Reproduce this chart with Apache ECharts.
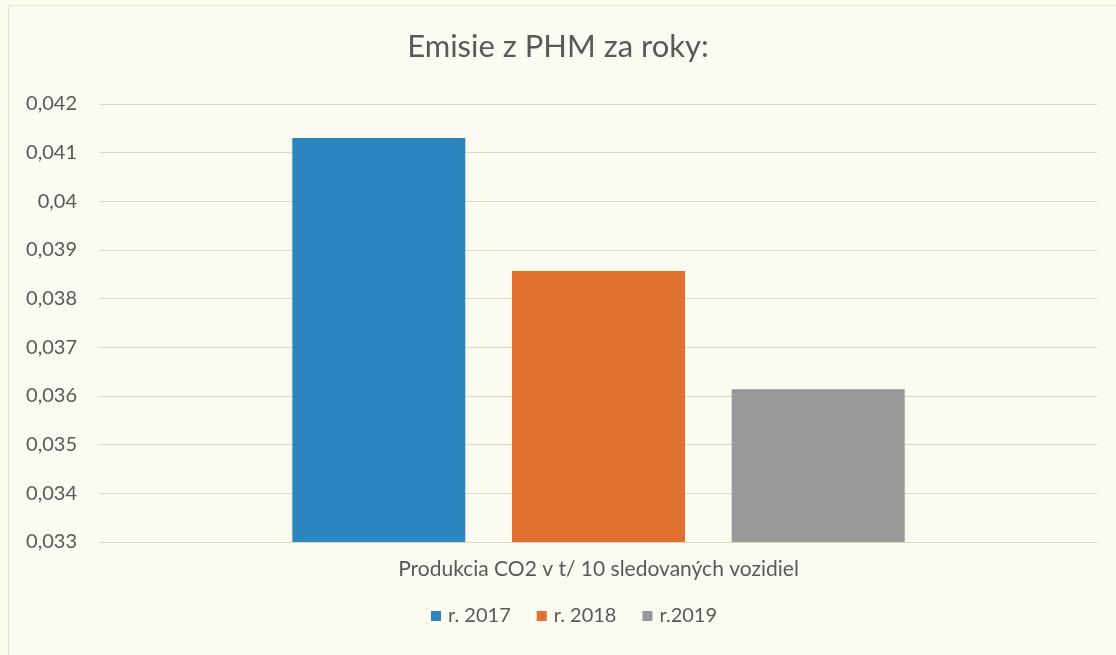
<!DOCTYPE html>
<html>
<head>
<meta charset="utf-8">
<script src="https://cdn.jsdelivr.net/npm/echarts@6/dist/echarts.min.js"></script>
<style>
  html, body { margin: 0; padding: 0; background: #fbfbf2; }
  #chart { width: 1116px; height: 655px; }
</style>
</head>
<body>
<div id="chart"></div>
<script>
// Emissions from fuel per year (t CO2 per 10 tracked vehicles)
const categories = ['Produkcia CO2 v t/ 10 sledovaných vozidiel'];
const seriesNames = ['r. 2017', 'r. 2018', 'r.2019'];
const values2017 = [0.0413];
const values2018 = [0.03857];
const values2019 = [0.03614];
const seriesColors = ['#2b86bf', '#e1712f', '#989898'];

const seriesValues = [values2017, values2018, values2019];

const chart = echarts.init(document.getElementById('chart'), null, { renderer: 'canvas' });

const textColor = '#595959';
const fontFamily = 'Lato, "Open Sans", "Liberation Sans", sans-serif';

chart.setOption({
  backgroundColor: '#fbfbf2',
  animation: false,
  textStyle: { fontFamily: fontFamily },
  title: {
    text: 'Emisie z PHM za roky:',
    left: 'center',
    top: 26,
    textStyle: { color: textColor, fontSize: 31, fontWeight: 'normal', fontFamily: fontFamily }
  },
  graphic: [{
    type: 'rect',
    shape: { x: 8.5, y: 5.5, width: 1120, height: 660 },
    style: { fill: 'none', stroke: '#e2e2d2', lineWidth: 1 },
    silent: true
  }],
  grid: { left: 100, right: 19, top: 104, bottom: 113, containLabel: false },
  legend: {
    data: seriesNames,
    left: 426,
    top: 601,
    itemWidth: 10,
    itemHeight: 10,
    itemGap: 26,
    icon: 'rect',
    textStyle: { color: textColor, fontSize: 20, fontFamily: fontFamily, padding: [0, 0, 0, 2] }
  },
  xAxis: {
    type: 'category',
    data: categories,
    axisLine: { show: true, lineStyle: { color: '#d9d8c6', width: 1 } },
    axisTick: { show: false },
    axisLabel: { color: textColor, fontSize: 21, margin: 17, fontFamily: fontFamily }
  },
  yAxis: {
    type: 'value',
    min: 0.033,
    max: 0.042,
    interval: 0.001,
    axisLine: { show: false },
    axisTick: { show: false },
    splitLine: { lineStyle: { color: '#d9d8c6', width: 1 } },
    axisLabel: {
      color: textColor,
      fontSize: 20,
      margin: 23,
      fontFamily: fontFamily,
      formatter: v => String(+v.toFixed(3)).replace('.', ',')
    }
  },
  series: seriesNames.map((name, i) => ({
    name: name,
    type: 'bar',
    data: seriesValues[i],
    barWidth: 173,
    barGap: '27%',
    itemStyle: { color: seriesColors[i] }
  }))
});
</script>
</body>
</html>
